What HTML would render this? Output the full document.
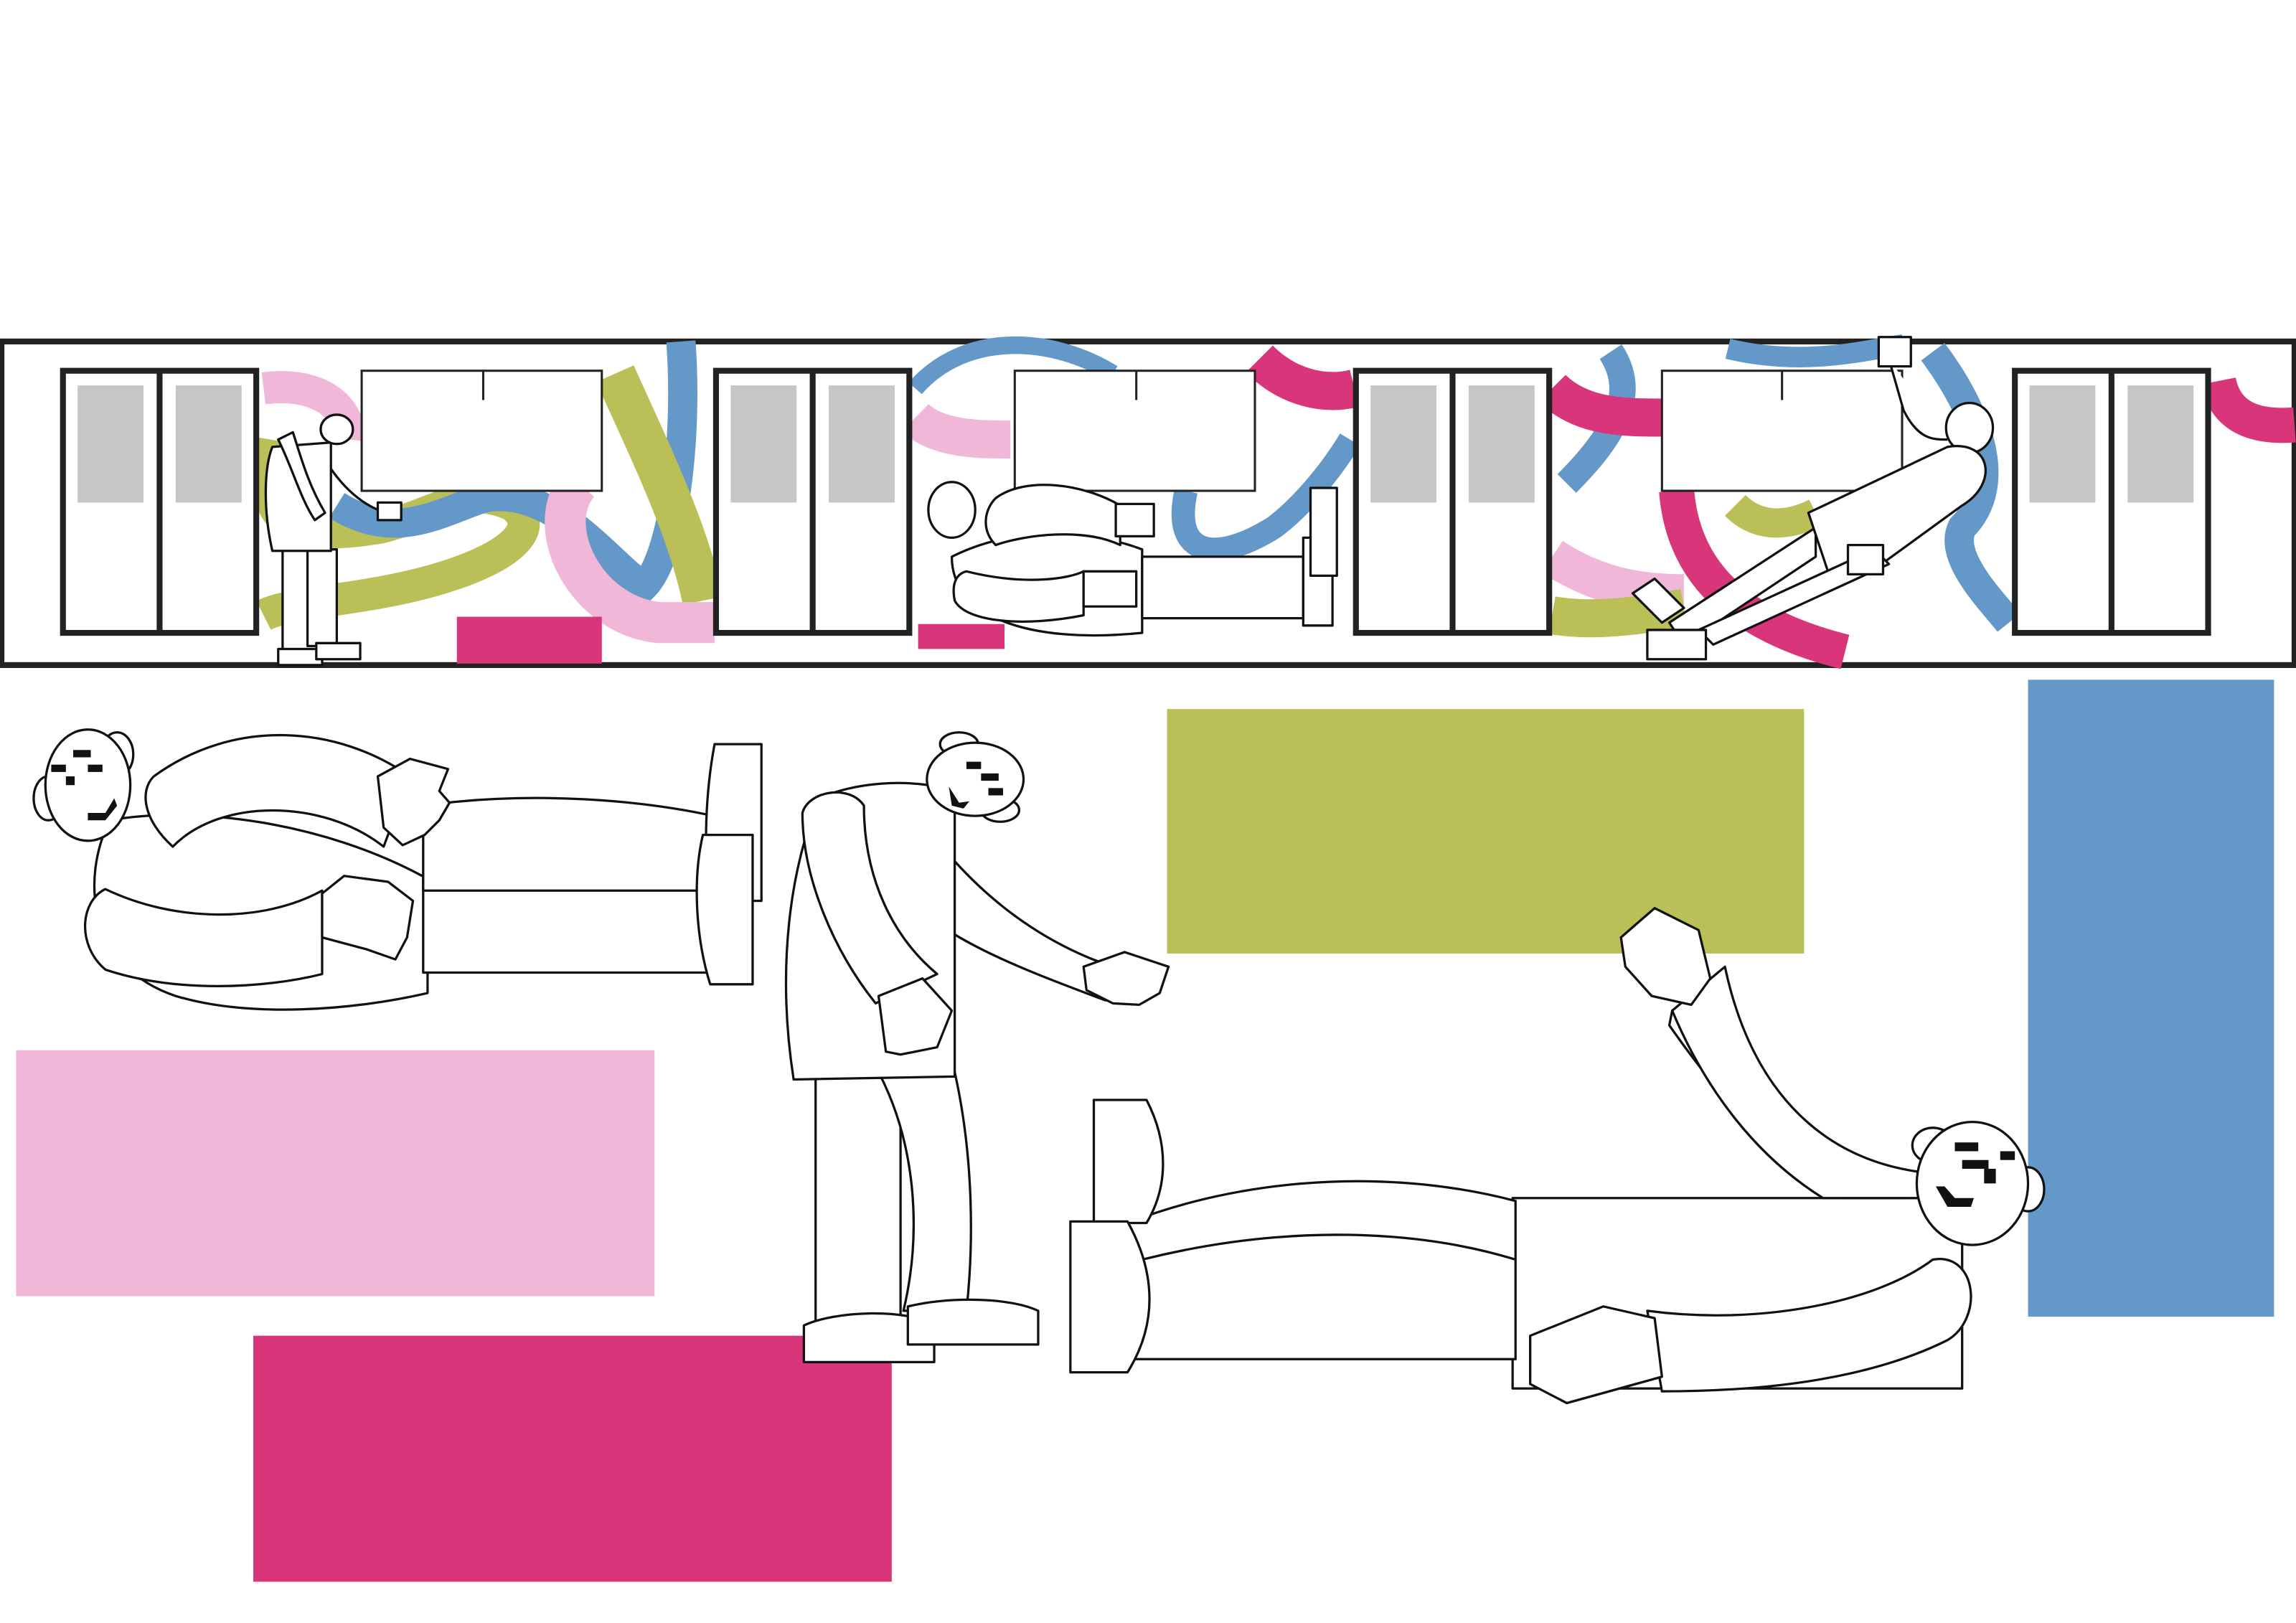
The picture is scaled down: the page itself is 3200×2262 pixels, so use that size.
<!DOCTYPE html>
<html><head><meta charset="utf-8"><style>
html,body{margin:0;padding:0;background:#fff;}
svg{display:block;}
</style></head><body>
<svg width="3200" height="2262" viewBox="0 0 1568 1108" xmlns="http://www.w3.org/2000/svg">
<rect width="1568" height="1108" fill="#fff"/>
<!-- big color blocks -->
<rect x="797" y="484" width="435" height="167" fill="#bbbf57"/>
<rect x="1385" y="464" width="168" height="435" fill="#6398c9"/>
<rect x="11" y="717" width="436" height="168" fill="#f0b7d8"/>
<rect x="173" y="912" width="436" height="168" fill="#d9357a"/>

<!-- strip -->
<rect x="1" y="233" width="1566" height="221" fill="#fff" stroke="#222" stroke-width="4"/>
<g fill="none" stroke-linecap="butt">
<path d="M180 265 C220 260 240 280 238 300" stroke="#f0b7d8" stroke-width="22"/>
<path d="M185 300 C175 360 200 370 260 360 C300 350 320 330 350 345 C370 360 350 380 300 395 C250 410 200 410 180 420" stroke="#bbbf57" stroke-width="22"/>
<path d="M230 345 C270 370 300 350 330 340 C380 330 420 390 440 400 C460 380 470 300 465 233" stroke="#6398c9" stroke-width="20"/>
<path d="M420 255 C440 300 470 360 480 410" stroke="#bbbf57" stroke-width="28"/>
<path d="M395 330 C370 360 400 420 450 425 L488 425" stroke="#f0b7d8" stroke-width="28"/>
<path d="M625 265 C660 225 720 230 760 255" stroke="#6398c9" stroke-width="12"/>
<path d="M625 285 C640 300 670 300 690 300" stroke="#f0b7d8" stroke-width="26"/>
<path d="M810 335 C800 380 830 385 870 360 C890 345 910 320 922 300" stroke="#6398c9" stroke-width="16"/>
<path d="M860 245 C880 265 905 270 925 265" stroke="#d9357a" stroke-width="26"/>
<path d="M1100 240 C1120 270 1100 300 1070 330" stroke="#6398c9" stroke-width="18"/>
<path d="M1060 265 C1080 285 1110 285 1135 285" stroke="#d9357a" stroke-width="26"/>
<path d="M1060 380 C1090 400 1120 405 1150 405" stroke="#f0b7d8" stroke-width="26"/>
<path d="M1060 420 C1090 425 1120 420 1150 415" stroke="#bbbf57" stroke-width="26"/>
<path d="M1145 335 C1150 400 1200 430 1260 445" stroke="#d9357a" stroke-width="24"/>
<path d="M1180 238 C1230 250 1270 240 1300 235" stroke="#6398c9" stroke-width="14"/>
<path d="M1320 240 C1350 280 1370 330 1340 360 C1330 380 1360 410 1372 425" stroke="#6398c9" stroke-width="20"/>
<path d="M1185 345 C1200 360 1220 360 1240 350" stroke="#bbbf57" stroke-width="20"/>
<path d="M1515 260 C1520 285 1540 292 1567 290" stroke="#d9357a" stroke-width="24"/>
</g>
<rect x="312" y="421" width="99" height="32" fill="#d9357a"/>
<rect x="627" y="426" width="59" height="17" fill="#d9357a"/>

<!-- doors -->
<g stroke="#222" stroke-width="4" fill="#fff">
<rect x="43" y="253" width="132" height="179"/><line x1="109" y1="253" x2="109" y2="432"/>
<rect x="489" y="253" width="132" height="179"/><line x1="555" y1="253" x2="555" y2="432"/>
<rect x="926" y="253" width="132" height="179"/><line x1="992" y1="253" x2="992" y2="432"/>
<rect x="1376" y="253" width="132" height="179"/><line x1="1442" y1="253" x2="1442" y2="432"/>
</g>
<g fill="#c6c6c6">
<rect x="53" y="263" width="45" height="80"/><rect x="120" y="263" width="45" height="80"/>
<rect x="499" y="263" width="45" height="80"/><rect x="566" y="263" width="45" height="80"/>
<rect x="936" y="263" width="45" height="80"/><rect x="1003" y="263" width="45" height="80"/>
<rect x="1386" y="263" width="45" height="80"/><rect x="1453" y="263" width="45" height="80"/>
</g>
<!-- boards -->
<g stroke="#222" stroke-width="1.5" fill="#fff">
<rect x="247" y="253" width="164" height="82"/><line x1="330" y1="253" x2="330" y2="273"/>
<rect x="693" y="253" width="164" height="82"/><line x1="776" y1="253" x2="776" y2="273"/>
<rect x="1135" y="253" width="164" height="82"/><line x1="1217" y1="253" x2="1217" y2="273"/>
</g>

<g stroke="#111" stroke-width="1.6" fill="#fff" stroke-linejoin="round">
<!-- small strip figure 1 -->
<rect x="193" y="375" width="25" height="70"/><rect x="210" y="375" width="20" height="66"/>
<rect x="190" y="443" width="30" height="11"/><rect x="216" y="439" width="30" height="11"/>
<path d="M186 305 L226 302 L226 376 L186 376 C180 350 180 320 186 305Z"/>
<path d="M226 320 C240 340 255 348 265 350"/><rect x="258" y="343" width="16" height="12"/>
<path d="M190 300 C200 320 205 340 215 355 L222 350 C210 330 205 310 200 295Z"/>
<ellipse cx="230" cy="293" rx="11" ry="10"/>
<!-- small strip figure 2 (lying) -->
<ellipse cx="650" cy="348" rx="16" ry="19"/>
<path d="M650 380 C650 420 700 440 780 432 L780 375 C740 360 690 360 650 380Z"/>
<rect x="780" y="380" width="110" height="42"/>
<rect x="890" y="367" width="20" height="60"/><rect x="895" y="333" width="18" height="60"/>
<path d="M680 340 C700 325 740 330 765 345 L765 372 C740 360 700 365 680 372 C670 362 672 348 680 340Z"/>
<path d="M660 390 C700 400 730 395 740 390 L740 420 C700 428 660 425 652 410 C650 400 652 392 660 390Z"/>
<rect x="762" y="344" width="26" height="22"/><rect x="740" y="390" width="36" height="24"/>
<!-- small strip figure 3 -->
<ellipse cx="1345" cy="292" rx="16" ry="17"/>
<path d="M1140 425 L1240 360 L1240 380 L1150 440Z"/>
<path d="M1235 350 L1330 305 C1360 300 1365 330 1340 345 L1285 385 L1250 395Z"/>
<path d="M1160 430 L1280 375 L1290 385 L1170 440Z"/>
<rect x="1125" y="430" width="40" height="20"/>
<path d="M1115 405 L1130 395 L1150 415 L1135 425Z"/>
<path d="M1290 245 L1300 280 C1310 300 1320 300 1330 300"/>
<rect x="1283" y="230" width="22" height="20"/>
<rect x="1262" y="372" width="24" height="20"/>

<!-- Figure 1 lying left -->
<path d="M75 560 C55 600 60 660 120 680 C170 695 240 690 292 678 L292 600 C220 560 130 550 75 560Z"/>
<path d="M289 600 L289 664 L490 664 L490 578 C420 570 340 580 289 600Z"/>
<path d="M289 550 C360 540 440 545 500 560 L500 608 L289 608Z" fill="#fff"/>
<path d="M488 508 L520 508 L520 615 L485 615 C480 580 482 540 488 508Z"/>
<path d="M480 570 L514 570 L514 672 L485 672 C475 640 473 600 480 570Z"/>
<path d="M105 530 C160 490 230 495 280 530 L262 578 C220 545 150 545 118 578 C98 560 95 540 105 530Z"/>
<path d="M72 607 C120 630 180 630 220 608 L220 665 C180 675 120 678 72 662 C52 645 55 615 72 607Z"/>
<path d="M258 530 L280 518 L306 525 L300 540 L307 548 L300 560 L290 570 L275 577 L262 565Z"/>
<path d="M220 610 L235 598 L265 602 L282 615 L278 640 L270 655 L250 648 L220 640Z"/>
<ellipse cx="80" cy="515" rx="11" ry="15"/><ellipse cx="33" cy="545" rx="10" ry="15"/>
<ellipse cx="60" cy="536" rx="29" ry="38"/>
<g fill="#111" stroke="none"><rect x="35" y="522" width="10" height="5"/><rect x="50" y="512" width="12" height="5"/><rect x="60" y="522" width="10" height="5"/><rect x="45" y="530" width="6" height="6"/><path d="M60 555 L72 555 L78 545 L80 550 L72 560 L60 560Z"/></g>

<!-- Figure 2 standing -->
<rect x="557" y="732" width="58" height="170"/>
<path d="M600 732 L652 732 C665 790 665 850 660 895 L617 895 C630 840 625 780 600 732Z"/>
<path d="M549 905 C570 895 620 893 638 905 L638 930 L549 930Z"/>
<path d="M620 892 C650 885 690 886 709 895 L709 918 L620 918Z"/>
<path d="M560 545 C580 535 620 530 652 540 L652 735 L542 737 C530 660 540 590 560 545Z"/>
<path d="M652 588 C690 630 730 650 760 660 L755 683 C720 670 680 655 652 638Z"/>
<path d="M740 660 L768 650 L798 660 L792 678 L778 686 L760 685 L742 676Z"/>
<path d="M548 555 C552 540 580 535 590 550 C590 600 610 640 640 665 L598 685 C570 650 548 600 548 555Z"/>
<path d="M600 680 L630 668 L650 690 L640 715 L615 720 L605 718Z"/>
<ellipse cx="655" cy="508" rx="13" ry="8"/><ellipse cx="683" cy="553" rx="13" ry="8"/>
<ellipse cx="666" cy="532" rx="33" ry="25"/>
<g fill="#111" stroke="none"><rect x="660" y="520" width="10" height="5"/><rect x="670" y="528" width="12" height="5"/><rect x="675" y="538" width="10" height="5"/><path d="M648 537 L655 548 L662 547 L658 552 L650 550Z"/></g>

<!-- Figure 3 lying right -->
<path d="M1033 818 L1340 818 L1340 948 L1033 948Z"/>
<path d="M770 835 C860 800 960 800 1035 820 L1035 928 L770 928Z"/>
<path d="M780 860 C880 835 970 840 1035 860" fill="none"/>
<path d="M747 751 L783 751 C798 780 798 810 783 835 L747 835Z"/>
<path d="M731 834 L770 834 C790 870 790 905 770 937 L731 937Z"/>
<path d="M1142 690 C1170 740 1220 790 1300 818 L1260 818 C1210 790 1175 750 1140 700Z" />
<path d="M1142 690 L1178 660 C1195 740 1240 790 1310 800 L1310 818 L1245 818 C1200 790 1165 745 1142 690Z"/>
<path d="M1107 640 L1130 620 L1160 635 L1168 668 L1155 686 L1128 680 L1110 660Z"/>
<path d="M1125 895 C1200 905 1280 890 1320 860 C1350 855 1355 900 1330 915 C1270 945 1190 950 1135 950Z"/>
<path d="M1045 912 L1095 892 L1130 900 L1135 940 L1070 958 L1045 945Z"/>
<ellipse cx="1320" cy="782" rx="14" ry="12"/><ellipse cx="1385" cy="812" rx="11" ry="15"/>
<ellipse cx="1347" cy="808" rx="38" ry="42"/>
<g fill="#111" stroke="none"><rect x="1335" y="780" width="16" height="6"/><rect x="1340" y="792" width="18" height="6"/><rect x="1355" y="798" width="8" height="10"/><rect x="1366" y="786" width="10" height="6"/><path d="M1322 810 L1328 810 L1335 818 L1348 818 L1346 824 L1330 824Z"/></g>
</g>
</svg>
</body></html>
